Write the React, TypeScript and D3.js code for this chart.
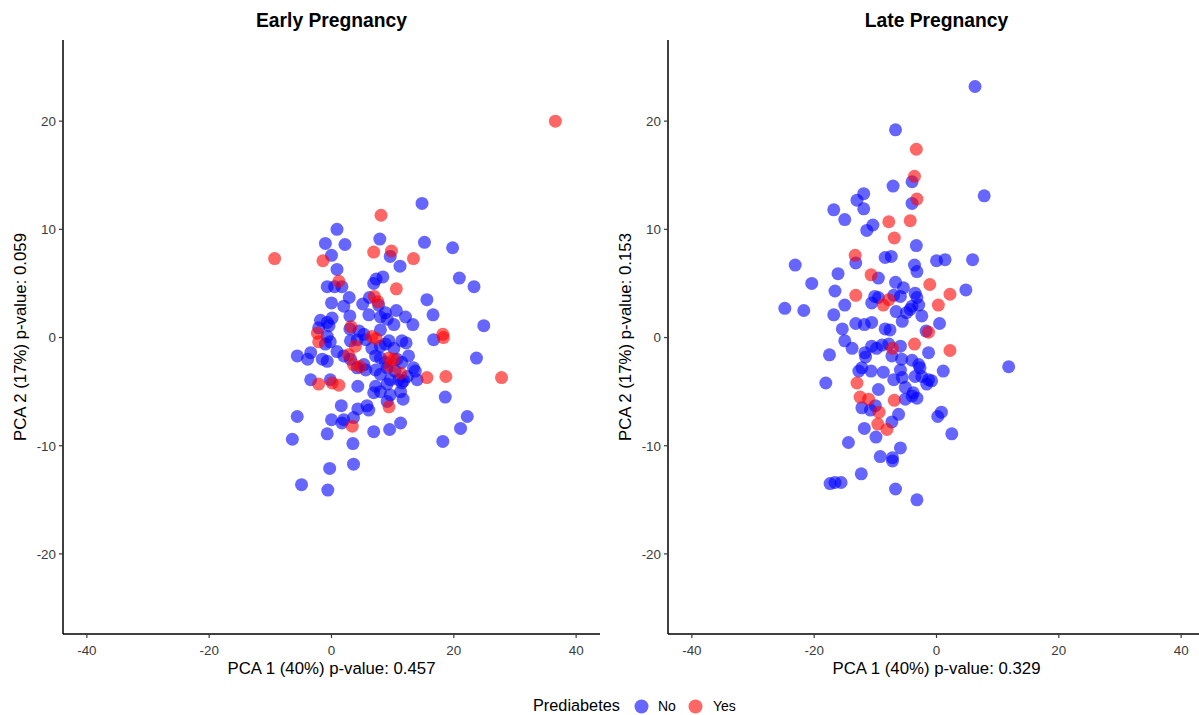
import React from 'react';
import * as d3 from 'd3';

// PCA scores, [PC1, PC2]
const earlyNo: [number, number][] = [
  [14.8, 12.4], [0.9, 10.0], [-1.0, 8.7], [2.2, 8.6], [7.9, 9.1], [15.2, 8.8], [19.8, 8.3],
  [0.0, 7.6], [9.6, 7.5], [11.2, 6.6], [0.9, 6.3], [20.9, 5.5], [23.3, 4.7], [-0.7, 4.7],
  [0.5, 4.7], [1.7, 4.7], [7.3, 5.4], [8.4, 5.6], [6.9, 5.0], [0.0, 3.2], [2.9, 3.7],
  [2.0, 2.9], [5.1, 3.1], [6.2, 3.7], [7.7, 3.0], [15.6, 3.5], [16.6, 2.1], [24.9, 1.1],
  [3.0, 2.0], [6.1, 2.1], [8.0, 1.9], [8.8, 2.3], [9.1, 1.7], [10.6, 2.5], [12.1, 1.9],
  [13.3, 1.2], [10.2, 1.2], [-1.8, 1.6], [-0.7, 1.4], [0.1, 1.8], [-2.1, 0.9], [-0.4, 1.1],
  [-0.7, 0.1], [-1.0, -0.6], [-0.2, -0.4], [3.0, 0.8], [4.5, 0.6], [5.3, 0.3], [5.6, -0.2],
  [4.2, -0.2], [3.1, -0.3], [8.0, 0.7], [8.8, -0.6], [8.0, -0.8], [9.4, -0.3], [10.2, -1.0],
  [11.5, -0.3], [12.2, -0.5], [16.7, -0.2], [-5.6, -1.7], [-3.9, -2.0], [-3.4, -1.4],
  [-1.5, -2.0], [-0.7, -2.2], [0.9, -1.3], [2.0, -1.7], [3.1, -2.0], [6.6, -1.0], [7.2, -1.7],
  [8.0, -1.9], [8.8, -2.3], [10.7, -2.0], [11.5, -2.3], [12.6, -1.7], [13.4, -2.8], [4.2, -2.8],
  [5.3, -2.5], [5.6, -3.0], [7.2, -3.0], [8.0, -3.4], [9.1, -2.8], [10.4, -3.1], [11.0, -3.9],
  [9.6, -3.9], [11.8, -4.0], [12.4, -3.6], [13.7, -3.1], [14.0, -3.9], [-3.4, -3.9], [-0.2, -3.9],
  [4.3, -4.5], [7.2, -4.5], [9.1, -4.3], [8.0, -5.0], [9.6, -5.3], [11.3, -5.0], [11.5, -4.2],
  [6.9, -5.1], [23.7, -1.9], [11.7, -5.7], [9.1, -5.9], [18.6, -5.5], [1.6, -6.3], [4.3, -6.6],
  [5.8, -6.3], [6.1, -6.7], [-5.6, -7.3], [0.0, -7.6], [1.7, -7.9], [2.0, -7.6], [3.6, -7.4],
  [6.9, -8.7], [9.5, -8.5], [11.3, -7.9], [22.2, -7.3], [21.1, -8.4], [-6.4, -9.4], [-0.7, -8.9],
  [3.5, -9.8], [18.2, -9.6], [-0.3, -12.1], [3.6, -11.7], [-4.9, -13.6], [-0.6, -14.1],
];

const earlyYes: [number, number][] = [
  [8.1, 11.3], [-9.3, 7.3], [-1.4, 7.1], [6.9, 7.9], [9.8, 8.0], [13.4, 7.3], [10.6, 4.5],
  [1.2, 5.2], [36.6, 20.0], [7.6, 3.3], [7.0, 3.8], [-2.3, 0.4], [-2.1, -0.4], [3.2, 1.0],
  [6.6, 0.1], [7.3, -0.1], [18.2, 0.3], [18.3, 0.0], [2.8, -1.6], [3.9, -0.8], [9.4, -1.9],
  [10.2, -2.0], [3.6, -2.5], [4.7, -2.7], [9.6, -2.7], [11.3, -3.3], [15.6, -3.7], [18.7, -3.6],
  [27.8, -3.7], [-2.1, -4.3], [0.1, -4.2], [1.2, -4.4], [9.4, -6.4], [3.4, -8.2],
];

const lateNo: [number, number][] = [
  [6.3, 23.2], [-6.7, 19.2], [-4.0, 14.4], [-7.1, 14.0], [-4.0, 12.4], [-11.9, 13.3], [-13.0, 12.7],
  [-11.9, 11.9], [-16.8, 11.8], [-15.0, 10.9], [-10.4, 10.4], [-11.4, 9.9], [-3.3, 8.5], [7.8, 13.1],
  [-13.2, 6.9], [-23.1, 6.7], [-16.1, 5.9], [-8.4, 7.4], [-7.4, 7.5], [-3.6, 6.7], [-3.2, 6.1],
  [0.0, 7.1], [1.4, 7.2], [5.9, 7.2], [-20.4, 5.0], [-16.6, 4.3], [-9.5, 5.5], [-6.7, 5.1],
  [-5.4, 4.6], [4.8, 4.4], [-10.1, 3.8], [-9.5, 3.7], [-10.6, 3.2], [-7.0, 3.9], [-5.9, 3.8],
  [-3.5, 4.1], [-3.2, 3.7], [-4.0, 2.9], [-2.9, 3.0], [-24.8, 2.7], [-21.7, 2.5], [-15.0, 3.0],
  [-16.8, 2.1], [-6.6, 2.4], [-4.9, 2.3], [-4.3, 2.6], [-2.4, 2.0], [-5.6, 1.5], [-13.2, 1.3],
  [-11.8, 1.2], [-10.6, 1.4], [0.5, 1.3], [-15.4, 0.8], [-8.4, 0.8], [-7.6, 0.7], [-1.7, 0.6],
  [-15.0, -0.3], [-13.8, -1.0], [-10.6, -0.8], [-9.8, -1.0], [-8.9, -0.7], [-7.8, -0.6], [-5.9, -0.8],
  [-1.3, -1.4], [-17.5, -1.6], [-11.7, -1.4], [-11.6, -1.8], [-7.3, -1.7], [-5.7, -2.0], [-4.0, -2.1],
  [-2.9, -2.5], [-2.7, -2.8], [1.1, -3.1], [-12.7, -3.1], [-12.2, -2.8], [-10.7, -3.1], [-8.7, -3.2],
  [-5.9, -3.0], [-5.6, -3.7], [-7.0, -3.9], [-3.5, -3.6], [-2.4, -3.6], [-1.3, -3.9], [-0.8, -4.0],
  [-1.6, -4.3], [-18.1, -4.2], [-9.5, -4.8], [-5.1, -4.6], [-3.8, -5.1], [-3.2, -5.6], [-4.0, -5.4],
  [-5.1, -5.7], [-12.2, -6.5], [-10.8, -6.7], [-10.0, -6.3], [-6.2, -7.1], [-7.3, -7.8], [0.2, -7.3],
  [0.8, -6.9], [2.5, -8.9], [-11.8, -8.4], [-9.9, -9.2], [-14.4, -9.7], [-5.9, -10.2], [-9.2, -11.0],
  [-7.2, -11.1], [-7.2, -11.4], [-12.3, -12.6], [-17.4, -13.5], [-16.6, -13.4], [-15.6, -13.4],
  [-6.7, -14.0], [-3.2, -15.0], [11.8, -2.7],
];

const lateYes: [number, number][] = [
  [-3.3, 17.4], [-3.6, 14.9], [-3.2, 12.8], [-7.8, 10.7], [-4.3, 10.8], [-6.9, 9.2], [-13.3, 7.6],
  [-10.7, 5.8], [-1.1, 4.9], [2.2, 4.0], [-13.2, 3.9], [-7.8, 3.5], [-8.7, 3.0], [0.3, 3.0],
  [-1.3, 0.5], [-3.6, -0.6], [2.2, -1.2], [-7.2, -1.0], [-13.0, -4.2], [-12.5, -5.5], [-11.1, -5.7],
  [-6.9, -5.8], [-9.4, -6.9], [-9.6, -8.0], [-8.1, -8.5],
];

const xTicks = [-40, -20, 0, 20, 40];
const yTicks = [-20, -10, 0, 10, 20];

const panels = [
  { title: 'Early Pregnancy', xLabel: 'PCA 1 (40%) p-value: 0.457', yLabel: 'PCA 2 (17%) p-value: 0.059', no: earlyNo, yes: earlyYes },
  { title: 'Late Pregnancy', xLabel: 'PCA 1 (40%) p-value: 0.329', yLabel: 'PCA 2 (17%) p-value: 0.153', no: lateNo, yes: lateYes },
];

const groups = ['No', 'Yes'];
const colors = ['#0000ff', '#ff0000'];

const W = 1199;
const H = 715;
const FONT = '"Liberation Sans", Arial, Helvetica, sans-serif';
const PANEL_LEFT = [63, 668];
const PANEL_W = 537;
const TOP = 40;
const BOTTOM = 634;
const R = 6.5;
const TICK_COL = '#3a3a3a';

const Panel = ({ p, left }) => {
  const x = d3.scaleLinear().domain([-43.9, 43.9]).range([left, left + PANEL_W]);
  const y = d3.scaleLinear().domain([-27.4, 27.5]).range([BOTTOM, TOP]);
  const cx = left + PANEL_W / 2;
  return (
    <g>
      <text x={cx} y={27} textAnchor="middle" fontSize={19.3} fontWeight="bold" fill="#000">{p.title}</text>
      {[p.no, p.yes].map((pts, gi) => (
        <g key={gi}>
          {pts.map((d, i) => (
            <circle key={i} cx={x(d[0])} cy={y(d[1])} r={R} fill={colors[gi]} fillOpacity={0.6} />
          ))}
        </g>
      ))}
      <line x1={left} x2={left} y1={TOP} y2={BOTTOM} stroke="#000" strokeWidth={1.5} />
      <line x1={left} x2={left + PANEL_W} y1={BOTTOM} y2={BOTTOM} stroke="#000" strokeWidth={1.5} />
      {xTicks.map(t => (
        <g key={t}>
          <line x1={x(t)} x2={x(t)} y1={BOTTOM} y2={BOTTOM + 4} stroke={TICK_COL} strokeWidth={1.2} />
          <text x={x(t)} y={BOTTOM + 21} textAnchor="middle" fontSize={13.4} fill={TICK_COL}>{t}</text>
        </g>
      ))}
      {yTicks.map(t => (
        <g key={t}>
          <line x1={left - 4} x2={left} y1={y(t)} y2={y(t)} stroke={TICK_COL} strokeWidth={1.2} />
          <text x={left - 7} y={y(t) + 4.8} textAnchor="end" fontSize={13.4} fill={TICK_COL}>{t}</text>
        </g>
      ))}
      <text x={cx} y={674} textAnchor="middle" fontSize={16.8} fill="#000">{p.xLabel}</text>
      <text transform={`translate(${left - 37},${(TOP + BOTTOM) / 2}) rotate(-90)`} textAnchor="middle" fontSize={16.8} fill="#000">{p.yLabel}</text>
    </g>
  );
};

export default function App() {
  return (
    <svg width={W} height={H} style={{ position: 'absolute', left: 0, top: 0, background: '#fff' }} fontFamily={FONT}>
      <rect width={W} height={H} fill="#fff" />
      {panels.map((p, i) => <Panel key={i} p={p} left={PANEL_LEFT[i]} />)}
      <g>
        <text x={533} y={711} fontSize={16.3} fill="#000">Prediabetes</text>
        {groups.map((g, i) => (
          <g key={g}>
            <circle cx={641.5 + i * 54} cy={706.5} r={7} fill={colors[i]} fillOpacity={0.6} />
            <text x={658 + i * 55} y={711} fontSize={14} fill="#000">{g}</text>
          </g>
        ))}
      </g>
    </svg>
  );
}
